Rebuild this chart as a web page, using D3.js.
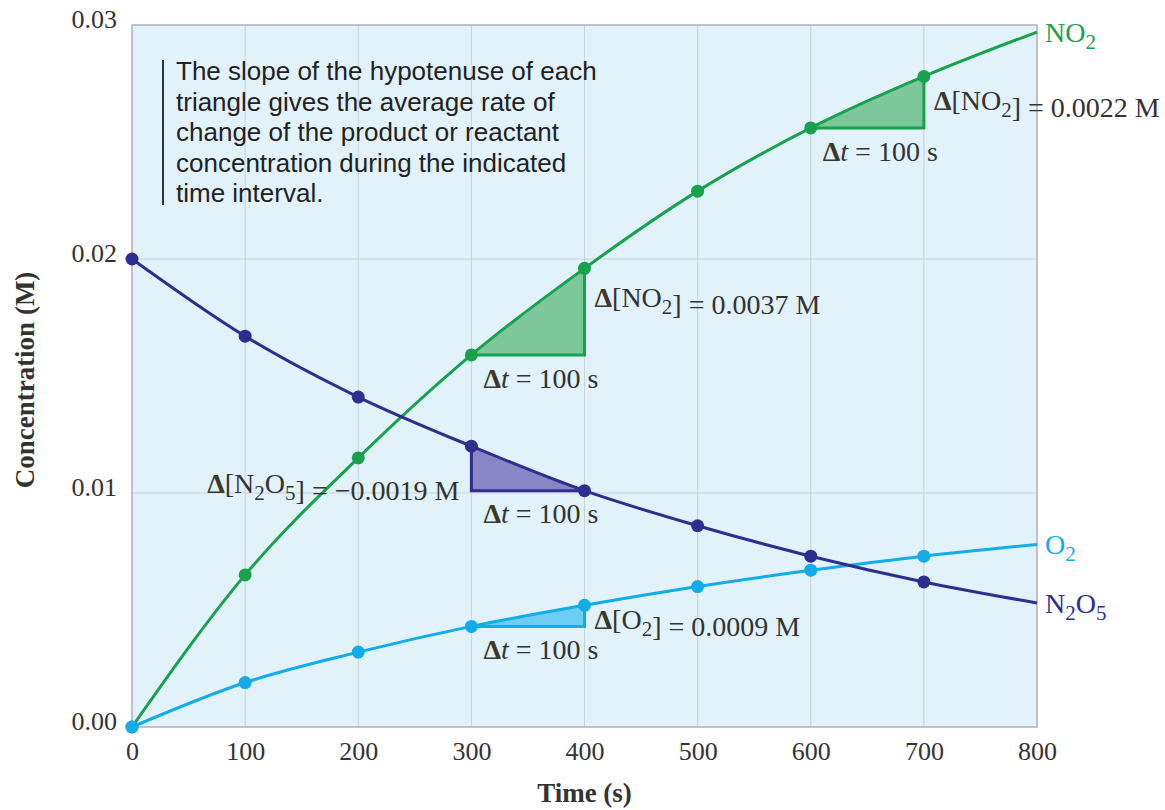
<!DOCTYPE html>
<html>
<head>
<meta charset="utf-8">
<script src="https://cdn.jsdelivr.net/npm/d3@7"></script>
<style>
  body { margin: 0; background: #fff; }
  svg text { font-family: "Liberation Serif", "Times New Roman", serif; }
</style>
</head>
<body>
<div id="chart"></div>
<script>
// time points (s) with dots, plus the end of each curve at 800 s
const times = [0, 100, 200, 300, 400, 500, 600, 700];
const endTime = 800;

// concentrations (M)
const no2 = [0.0000, 0.0065, 0.0115, 0.0159, 0.0196, 0.0229, 0.0256, 0.0278];
const n2o5 = [0.0200, 0.0167, 0.0141, 0.0120, 0.0101, 0.0086, 0.0073, 0.0062];
const o2 = [0.0000, 0.0019, 0.0032, 0.0043, 0.0052, 0.0060, 0.0067, 0.0073];
const endValues = { no2: 0.0297, n2o5: 0.0053, o2: 0.0078 };

const xTicks = [0, 100, 200, 300, 400, 500, 600, 700, 800];
const yTicks = [0, 0.01, 0.02, 0.03];

// triangles: series, start time, end time, label
const triangles = [
  { key: "no2", t1: 300, t2: 400, label: "0.0037 M" },
  { key: "no2", t1: 600, t2: 700, label: "0.0022 M" },
  { key: "n2o5", t1: 300, t2: 400, label: "−0.0019 M" },
  { key: "o2", t1: 300, t2: 400, label: "0.0009 M" }
];

const series = {
  no2: { values: no2, color: "#17a24b", fill: "#7ec79a", name: ["NO", "2"] },
  n2o5: { values: n2o5, color: "#2c2f8e", fill: "#8985c6", name: ["N", "2", "O", "5"] },
  o2: { values: o2, color: "#12ade8", fill: "#6dcdf3", name: ["O", "2"] }
};

const W = 1165, H = 810;
const margin = { left: 132, top: 25, right: 128, bottom: 83 };

const svg = d3.select("#chart").append("svg")
  .attr("width", W)
  .attr("height", H);

const x = d3.scaleLinear().domain([0, 800]).range([margin.left, W - margin.right]);
const y = d3.scaleLinear().domain([0, 0.03]).range([H - margin.bottom, margin.top]);

// plot background
svg.append("rect")
  .attr("x", x(0)).attr("y", y(0.03))
  .attr("width", x(800) - x(0)).attr("height", y(0) - y(0.03))
  .attr("fill", "#e2f2fb");

// grid
svg.append("g").selectAll("line")
  .data(xTicks.slice(1, -1))
  .enter().append("line")
    .attr("x1", d => x(d)).attr("x2", d => x(d))
    .attr("y1", y(0)).attr("y2", y(0.03))
    .attr("stroke", "#c9d2da").attr("stroke-width", 1);
svg.append("g").selectAll("line")
  .data(yTicks.slice(1, -1))
  .enter().append("line")
    .attr("x1", x(0)).attr("x2", x(800))
    .attr("y1", d => y(d)).attr("y2", d => y(d))
    .attr("stroke", "#c9d2da").attr("stroke-width", 1);

// frame
svg.append("rect")
  .attr("x", x(0)).attr("y", y(0.03))
  .attr("width", x(800) - x(0)).attr("height", y(0) - y(0.03))
  .attr("fill", "none")
  .attr("stroke", "#aab2ba").attr("stroke-width", 1.5);

// axes (labels only, the frame is the axis line)
const xAxis = svg.append("g")
  .attr("transform", `translate(0,${y(0)})`)
  .call(d3.axisBottom(x).tickValues(xTicks).tickSize(0).tickPadding(14).tickFormat(d3.format("d")));
const yAxis = svg.append("g")
  .attr("transform", `translate(${x(0)},0)`)
  .call(d3.axisLeft(y).tickValues(yTicks).tickSize(0).tickPadding(15).tickFormat(d3.format(".2f")));
[xAxis, yAxis].forEach(a => {
  a.select(".domain").remove();
  a.selectAll("text")
    .attr("font-family", "Liberation Serif, serif")
    .attr("font-size", 26)
    .attr("fill", "#333");
});
yAxis.selectAll("text").attr("dy", "0.1em");
xAxis.selectAll("text").attr("dy", "0.72em");

// axis titles
svg.append("text")
  .attr("x", (x(0) + x(800)) / 2).attr("y", 802)
  .attr("text-anchor", "middle")
  .attr("font-size", 27).attr("font-weight", "bold").attr("fill", "#333")
  .text("Time (s)");
svg.append("text")
  .attr("transform", `translate(34,${(y(0) + y(0.03)) / 2 + 4}) rotate(-90)`)
  .attr("text-anchor", "middle")
  .attr("font-size", 27).attr("font-weight", "bold").attr("fill", "#333")
  .text("Concentration (M)");

// triangles (under the curves)
triangles.forEach(tr => {
  const s = series[tr.key];
  const i1 = times.indexOf(tr.t1), i2 = times.indexOf(tr.t2);
  const v1 = s.values[i1], v2 = s.values[i2];
  const corner = v2 > v1 ? [x(tr.t2), y(v1)] : [x(tr.t1), y(v2)];
  const pts = [[x(tr.t1), y(v1)], corner, [x(tr.t2), y(v2)]];
  svg.append("path")
    .attr("d", "M" + pts.join("L") + "Z")
    .attr("fill", s.fill)
    .attr("stroke", "none");
  svg.append("path")
    .attr("d", "M" + pts.join("L"))
    .attr("fill", "none")
    .attr("stroke", s.color).attr("stroke-width", 3);
});

// curves and dots
const line = d3.line().x(d => x(d[0])).y(d => y(d[1])).curve(d3.curveMonotoneX);
["no2", "o2", "n2o5"].forEach(k => {
  const s = series[k];
  const pts = times.map((t, i) => [t, s.values[i]]).concat([[endTime, endValues[k]]]);
  svg.append("path")
    .datum(pts)
    .attr("d", line)
    .attr("fill", "none")
    .attr("stroke", s.color).attr("stroke-width", 3);
});
["no2", "n2o5", "o2"].forEach(k => {
  const s = series[k];
  svg.append("g").selectAll("circle")
    .data(times.map((t, i) => [t, s.values[i]]))
    .enter().append("circle")
      .attr("cx", d => x(d[0])).attr("cy", d => y(d[1]))
      .attr("r", 6.5)
      .attr("fill", s.color);
});

// helper for chemistry text with subscripts
function chem(sel, parts) {
  parts.forEach((p, i) => {
    const isSub = /^\d$/.test(p);
    sel.append("tspan")
      .attr("dy", isSub ? 7 : (i > 0 && /^\d$/.test(parts[i - 1]) ? -7 : 0))
      .attr("font-size", isSub ? "0.75em" : null)
      .text(p);
  });
}

// series labels at the curve ends
Object.keys(series).forEach(k => {
  const t = svg.append("text")
    .attr("x", x(endTime) + 8).attr("y", y(endValues[k]) + 10)
    .attr("font-size", 28).attr("fill", series[k].color);
  chem(t, series[k].name);
});

// triangle labels
const labelColor = "#333";
function deltaLabel(px, py, parts, value, anchor) {
  const t = svg.append("text")
    .attr("x", px).attr("y", py)
    .attr("text-anchor", anchor || "start")
    .attr("font-size", 28).attr("fill", labelColor);
  t.append("tspan").attr("font-weight", "bold").attr("fill", "#3b3a2a").text("Δ");
  t.append("tspan").text("[");
  chem(t, parts);
  t.append("tspan").text("] = " + value);
}
function dtLabel(px, py) {
  const t = svg.append("text")
    .attr("x", px).attr("y", py)
    .attr("font-size", 28).attr("fill", labelColor);
  t.append("tspan").attr("font-weight", "bold").attr("fill", "#3b3a2a").text("Δ");
  t.append("tspan").attr("font-style", "italic").text("t");
  t.append("tspan").text(" = 100 s");
}

// vertical offsets of the Δ[...] labels below the upper dot
const deltaOffsets = [39, 34, 0, 24];
triangles.forEach((tr, j) => {
  const s = series[tr.key];
  const v1 = s.values[times.indexOf(tr.t1)], v2 = s.values[times.indexOf(tr.t2)];
  if (tr.key === "n2o5") {
    deltaLabel(x(tr.t1) - 12, y(v2) + 2, s.name, tr.label, "end");
    dtLabel(x(tr.t1) + 12, y(v2) + 32);
  } else {
    deltaLabel(x(tr.t2) + 10, y(v2) + deltaOffsets[j], s.name, tr.label);
    dtLabel(x(tr.t1) + 12, y(v1) + 33);
  }
});

// note box
const note = [
  "The slope of the hypotenuse of each",
  "triangle gives the average rate of",
  "change of the product or reactant",
  "concentration during the indicated",
  "time interval."
];
svg.append("line")
  .attr("x1", 163).attr("x2", 163)
  .attr("y1", 60).attr("y2", 205)
  .attr("stroke", "#333").attr("stroke-width", 2);
svg.append("g").selectAll("text")
  .data(note)
  .enter().append("text")
    .attr("x", 176).attr("y", (d, i) => 80 + i * 30.5)
    .style("font-family", "Liberation Sans, Arial, sans-serif")
    .attr("font-size", 26).attr("fill", "#222")
    .text(d => d);
</script>
</body>
</html>
